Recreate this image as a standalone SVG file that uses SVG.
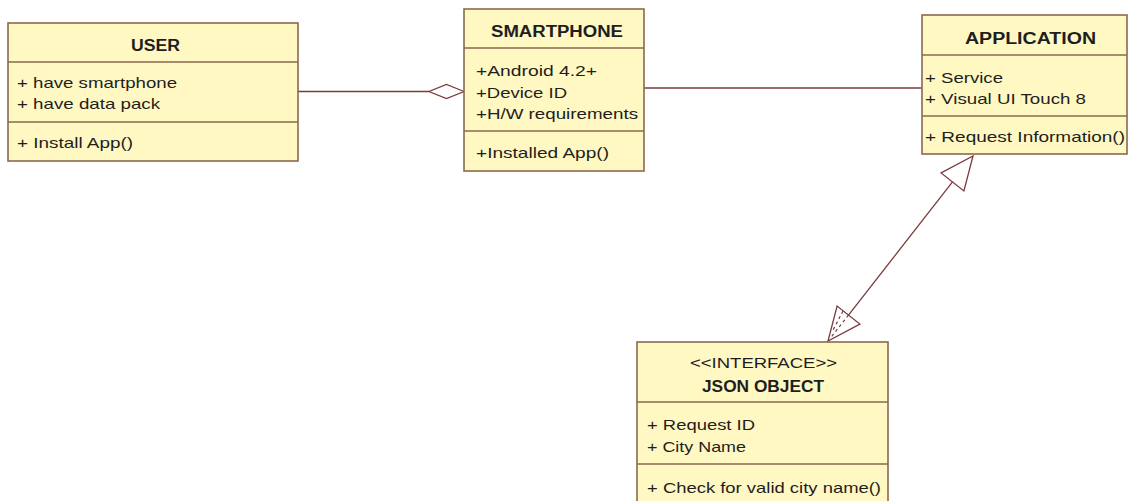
<svg xmlns="http://www.w3.org/2000/svg" width="1129" height="501" viewBox="0 0 1129 501">
  <style>
    .box { fill: #FFF8C2; stroke: #8A6A4E; stroke-width: 1.6; }
    .sep { stroke: #8A6A4E; stroke-width: 1.6; }
    .t { font-family: "Liberation Sans", Arial, sans-serif; font-size: 15px; fill: #1E1E1E; }
    .b { font-weight: bold; font-size: 16px; }
    .st { font-size: 14px; }
    .link { fill: none; stroke: #7A3B3B; stroke-width: 1.3; }
    .head { fill: #FFFFFF; stroke: #7A3B3B; stroke-width: 1.3; }
    .dash { stroke: #7A3B3B; stroke-width: 1.2; stroke-dasharray: 3 3; }
  </style>
  <rect width="1129" height="501" fill="#FFFFFF"/>

  <g id="connectors">
    <!-- USER to SMARTPHONE, aggregation diamond at SMARTPHONE -->
    <line class="link" x1="298" y1="91.5" x2="429" y2="91.5"/>
    <polygon class="head" points="464,91.5 446.5,84.5 429,91.5 446.5,98.5"/>
    <!-- SMARTPHONE to APPLICATION -->
    <line class="link" x1="644" y1="88" x2="922" y2="88"/>
    <!-- APPLICATION to JSON OBJECT, hollow triangles at both ends -->
    <line class="link" x1="952.5" y1="181.9" x2="848.5" y2="315.1"/>
    <polygon class="head" points="973,156 963.9,190.9 941.1,172.9"/>
    <polygon class="head" points="828,341 837.1,306.1 859.9,324.1"/>
    <line class="dash" x1="848.5" y1="315.1" x2="830" y2="338.5"/>
    <line class="dash" x1="843" y1="311" x2="832" y2="332"/>
  </g>

  <g id="user">
    <rect class="box" x="8" y="23" width="290" height="138"/>
    <line class="sep" x1="8" y1="62" x2="298" y2="62"/>
    <line class="sep" x1="8" y1="122" x2="298" y2="122"/>
    <text class="t b" x="131" y="51" textLength="49" lengthAdjust="spacingAndGlyphs">USER</text>
    <text class="t" x="17" y="88" textLength="160" lengthAdjust="spacingAndGlyphs">+ have smartphone</text>
    <text class="t" x="17" y="109" textLength="143" lengthAdjust="spacingAndGlyphs">+ have data pack</text>
    <text class="t" x="17" y="148" textLength="116" lengthAdjust="spacingAndGlyphs">+ Install App()</text>
  </g>

  <g id="smartphone">
    <rect class="box" x="464" y="9" width="180" height="162"/>
    <line class="sep" x1="464" y1="48" x2="644" y2="48"/>
    <line class="sep" x1="464" y1="131" x2="644" y2="131"/>
    <text class="t b" x="491" y="37" textLength="132" lengthAdjust="spacingAndGlyphs">SMARTPHONE</text>
    <text class="t" x="476" y="76" textLength="121" lengthAdjust="spacingAndGlyphs">+Android 4.2+</text>
    <text class="t" x="476" y="98" textLength="91" lengthAdjust="spacingAndGlyphs">+Device ID</text>
    <text class="t" x="476" y="119" textLength="162" lengthAdjust="spacingAndGlyphs">+H/W requirements</text>
    <text class="t" x="476" y="158" textLength="133" lengthAdjust="spacingAndGlyphs">+Installed App()</text>
  </g>

  <g id="application">
    <rect class="box" x="922" y="15" width="205" height="139"/>
    <line class="sep" x1="922" y1="55" x2="1127" y2="55"/>
    <line class="sep" x1="922" y1="116" x2="1127" y2="116"/>
    <text class="t b" x="965" y="44" textLength="131" lengthAdjust="spacingAndGlyphs">APPLICATION</text>
    <text class="t" x="925" y="83" textLength="78" lengthAdjust="spacingAndGlyphs">+ Service</text>
    <text class="t" x="925" y="104" textLength="161" lengthAdjust="spacingAndGlyphs">+ Visual UI Touch 8</text>
    <text class="t" x="925" y="142" textLength="200" lengthAdjust="spacingAndGlyphs">+ Request Information()</text>
  </g>

  <g id="json-object">
    <rect class="box" x="637" y="342" width="251" height="164"/>
    <line class="sep" x1="637" y1="402" x2="888" y2="402"/>
    <line class="sep" x1="637" y1="464" x2="888" y2="464"/>
    <text class="t st" x="690" y="368" textLength="147" lengthAdjust="spacingAndGlyphs">&lt;&lt;INTERFACE&gt;&gt;</text>
    <text class="t b" x="702" y="392" textLength="122" lengthAdjust="spacingAndGlyphs">JSON OBJECT</text>
    <text class="t" x="647" y="430" textLength="108" lengthAdjust="spacingAndGlyphs">+ Request ID</text>
    <text class="t" x="647" y="452" textLength="99" lengthAdjust="spacingAndGlyphs">+ City Name</text>
    <text class="t" x="647" y="493" textLength="234" lengthAdjust="spacingAndGlyphs">+ Check for valid city name()</text>
  </g>
</svg>
